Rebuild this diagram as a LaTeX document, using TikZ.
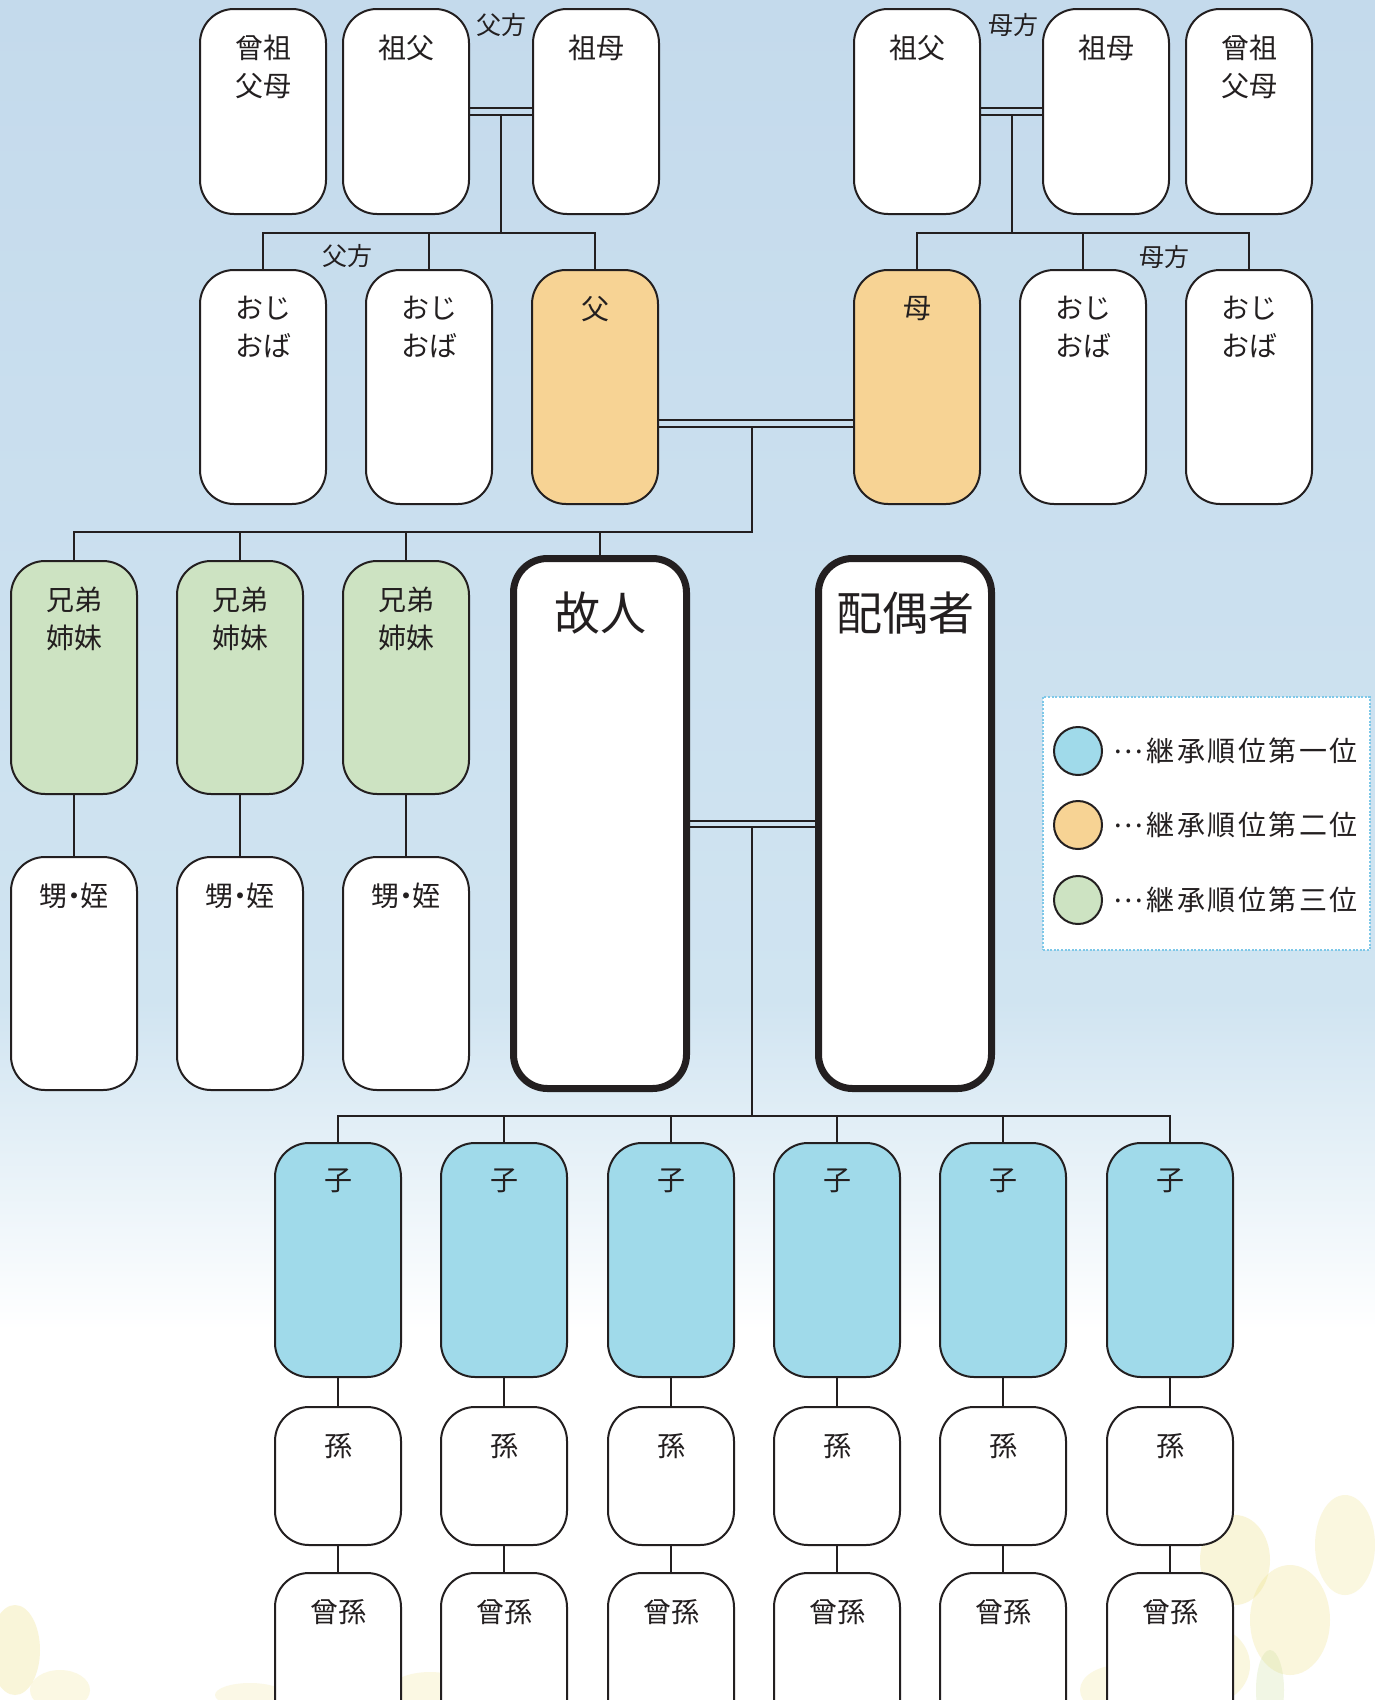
\documentclass[tikz,border=0pt]{standalone}
\usepackage{fontspec}
\newfontfamily\jp{Noto Sans CJK JP}
\newfontfamily\jpls[LetterSpace=9]{Noto Sans CJK JP}
\usetikzlibrary{calc}
\definecolor{bgA}{RGB}{196,218,236}
\definecolor{bgB}{RGB}{208,228,241}
\definecolor{linec}{RGB}{35,31,32}
\definecolor{cblue}{RGB}{160,218,234}
\definecolor{corange}{RGB}{247,211,148}
\definecolor{cgreen}{RGB}{205,227,194}
\definecolor{legc}{RGB}{126,200,232}
\definecolor{flw}{RGB}{238,224,130}
\definecolor{flg}{RGB}{200,220,150}
\begin{document}
\begin{tikzpicture}[x=1pt,y=-1pt]
\tikzset{
  pbox/.style={draw=linec, line width=2pt, rounded corners=34pt, minimum width=126pt, inner sep=0pt, fill=white},
  mainbox/.style={draw=linec, line width=7pt, rounded corners=34pt, minimum width=173pt, inner sep=0pt, fill=white},
  conn/.style={draw=linec, line width=2pt},
  lbl/.style={font=\jp\fontsize{28}{38}\selectfont, align=center, inner sep=0pt, anchor=north, text=linec},
  biglbl/.style={font=\jp\fontsize{46}{50}\selectfont, inner sep=0pt, text=linec},
  sidelbl/.style={font=\jp\fontsize{25}{28}\selectfont, inner sep=0pt, text=linec},
  leglbl/.style={font=\jpls\fontsize{28}{30}\selectfont, inner sep=0pt, anchor=west, text=linec},
  legdot/.style={circle, draw=linec, line width=2pt, minimum size=48pt, inner sep=0pt},
}
\newcommand\pb[6]{%
  \node[pbox,#5,minimum height=#4pt] (#1) at (#2,#3) {};
  \node[lbl] (#1t) at ([yshift=-27pt]#1.north) {#6};}
\newcommand\nmdot{\kern-0.28em・\kern-0.28em}
\newcommand\legdots{\raisebox{0.3em}{\jp\kern0.05em…\kern0.12em}}
\clip (0,0) rectangle (1375,1700);
% background
\shade[top color=bgA, bottom color=bgB] (0,0) rectangle (1375,1000);
\shade[top color=bgB, bottom color=white] (0,1000) rectangle (1375,1330);
\fill[white] (0,1330) rectangle (1375,1700);
\foreach \cx/\cy/\rx/\ry/\op in {1235/1560/35/45/0.30, 1290/1620/40/55/0.28, 1205/1665/45/40/0.25, 1345/1545/30/50/0.25, 1120/1690/40/25/0.22, 15/1650/25/45/0.30, 60/1690/30/20/0.22, 430/1690/40/18/0.22, 250/1695/35/12/0.20}{
  \fill[flw, opacity=\op] (\cx,\cy) ellipse ({\rx pt} and {\ry pt});
}
\fill[flg, opacity=0.25] (1270,1690) ellipse (14pt and 40pt);
% row 1
\pb{g1}{263}{111.5}{205}{}{曾祖\\父母}
\pb{g2}{406}{111.5}{205}{}{祖父}
\pb{g3}{596}{111.5}{205}{}{祖母}
\pb{g4}{917}{111.5}{205}{}{祖父}
\pb{g5}{1106}{111.5}{205}{}{祖母}
\pb{g6}{1249}{111.5}{205}{}{曾祖\\父母}
% row 2
\pb{u1}{263}{387}{234}{}{おじ\\おば}
\pb{u2}{429}{387}{234}{}{おじ\\おば}
\pb{fa}{595}{387}{234}{fill=corange}{父}
\pb{mo}{917}{387}{234}{fill=corange}{母}
\pb{u3}{1083}{387}{234}{}{おじ\\おば}
\pb{u4}{1249}{387}{234}{}{おじ\\おば}
% row 3
\pb{s1}{74}{677.5}{233}{fill=cgreen}{兄弟\\姉妹}
\pb{s2}{240}{677.5}{233}{fill=cgreen}{兄弟\\姉妹}
\pb{s3}{406}{677.5}{233}{fill=cgreen}{兄弟\\姉妹}
\node[mainbox, minimum height=530pt] (dec) at (600,823.5) {};
\node[biglbl] (dect) at (600,613) {故人};
\node[mainbox, minimum height=530pt] (sp) at (905,823.5) {};
\node[biglbl] (spt) at (905,613) {配偶者};
% row 4
\pb{n1}{74}{973.5}{233}{}{甥\nmdot 姪}
\pb{n2}{240}{973.5}{233}{}{甥\nmdot 姪}
\pb{n3}{406}{973.5}{233}{}{甥\nmdot 姪}
% rows 5-7
\foreach \i/\x in {1/338,2/504,3/671,4/837,5/1003,6/1170}{
  \pb{c\i}{\x}{1260}{234}{fill=cblue}{子}
  \pb{gc\i}{\x}{1476}{138}{}{孫}
  \pb{ggc\i}{\x}{1690}{234}{}{曾孫}
  \draw[conn] (c\i.south) -- (gc\i.north);
  \draw[conn] (gc\i.south) -- (ggc\i.north);
}
% side labels
\node[sidelbl] (lf1) at (501,25) {父方};
\node[sidelbl] (lf2) at (347,256) {父方};
\node[sidelbl] (lm1) at (1013,25) {母方};
\node[sidelbl] (lm2) at (1164,257) {母方};
% paternal grandparents
\draw[conn] ([yshift=3.5pt]g2.east) -- ([yshift=3.5pt]g3.west);
\draw[conn] ([yshift=-3.5pt]g2.east) -- ([yshift=-3.5pt]g3.west);
\coordinate (pl) at ($([yshift=-3.5pt]g2.east)!0.5!([yshift=-3.5pt]g3.west)$);
\coordinate (bl) at (501,233);
\draw[conn] (pl) -- (pl |- bl);
\draw[conn] (u1.north) |- (fa.north |- bl) -- (fa.north);
\draw[conn] (u2.north) -- (u2.north |- bl);
% maternal grandparents
\draw[conn] ([yshift=3.5pt]g4.east) -- ([yshift=3.5pt]g5.west);
\draw[conn] ([yshift=-3.5pt]g4.east) -- ([yshift=-3.5pt]g5.west);
\coordinate (pr) at ($([yshift=-3.5pt]g4.east)!0.5!([yshift=-3.5pt]g5.west)$);
\coordinate (br) at (1011,233);
\draw[conn] (pr) -- (pr |- br);
\draw[conn] (mo.north) |- (u4.north |- br) -- (u4.north);
\draw[conn] (u3.north) -- (u3.north |- br);
% parents
\draw[conn] ([yshift=-33pt]fa.east) -- ([yshift=-33pt]mo.west);
\draw[conn] ([yshift=-40pt]fa.east) -- ([yshift=-40pt]mo.west);
\coordinate (vx) at (752,0);
\coordinate (pline) at ([yshift=-40pt]fa.east);
\coordinate (bs) at (752,532);
\draw[conn] (vx |- pline) -- (bs) -- (s1.north |- bs) -- (s1.north);
\draw[conn] (s2.north) -- (s2.north |- bs);
\draw[conn] (s3.north) -- (s3.north |- bs);
\draw[conn] (dec.north) -- (dec.north |- bs);
% siblings to nephews
\draw[conn] (s1.south) -- (n1.north);
\draw[conn] (s2.south) -- (n2.north);
\draw[conn] (s3.south) -- (n3.north);
% deceased and spouse
\draw[conn] ([yshift=3pt]dec.east) -- ([yshift=3pt]sp.west);
\draw[conn] ([yshift=-3pt]dec.east) -- ([yshift=-3pt]sp.west);
\coordinate (sline) at ([yshift=-3pt]dec.east);
\coordinate (bc) at (752,1116);
\draw[conn] (vx |- sline) -- (bc);
\draw[conn] (c1.north) |- (c6.north |- bc) -- (c6.north);
\foreach \i in {2,3,4,5}{\draw[conn] (c\i.north) -- (c\i.north |- bc);}
% legend
\node[draw=legc, line width=1.6pt, dash pattern=on 2pt off 1.6pt, fill=white, minimum width=327pt, minimum height=253pt, inner sep=0pt] (leg) at (1206.5,823.5) {};
\node[legdot, fill=cblue] (ld1) at (1078,751) {};
\node[legdot, fill=corange] (ld2) at (1078,825) {};
\node[legdot, fill=cgreen] (ld3) at (1078,900) {};
\node[leglbl] (lt1) at (1112,751) {\legdots 継承順位第一位};
\node[leglbl] (lt2) at (1112,825) {\legdots 継承順位第二位};
\node[leglbl] (lt3) at (1112,900) {\legdots 継承順位第三位};
\end{tikzpicture}
\end{document}
